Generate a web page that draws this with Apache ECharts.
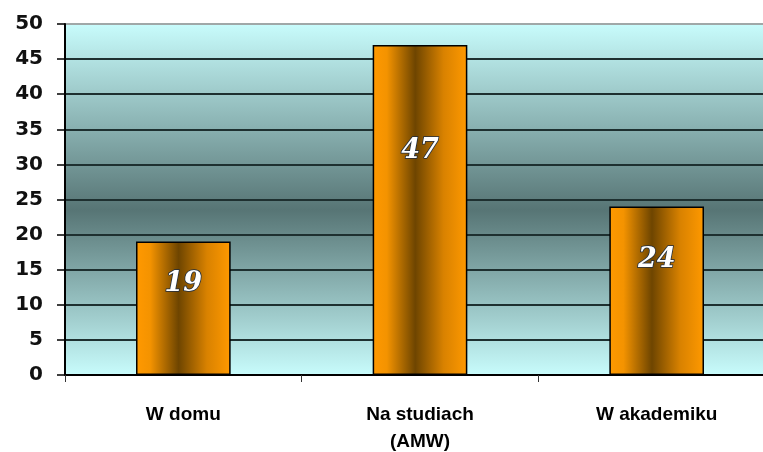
<!DOCTYPE html>
<html>
<head>
<meta charset="utf-8">
<script src="https://cdn.jsdelivr.net/npm/echarts@6/dist/echarts.min.js"></script>
<style>
  html, body { margin: 0; padding: 0; background: #ffffff; }
  #chart { width: 763px; height: 452px; }
</style>
</head>
<body>
<div id="chart"></div>
<script>
// Where students live
const categories = ['W domu', 'Na studiach\n(AMW)', 'W akademiku'];
const values = [19, 47, 24];
const yMin = 0;
const yMax = 50;
const yStep = 5;

const chart = echarts.init(document.getElementById('chart'));

// orange bar with a dark brown stripe down the middle
const barFill = new echarts.graphic.LinearGradient(0, 0, 1, 0, [
  { offset: 0, color: '#ff9900' },
  { offset: 0.15, color: '#f49300' },
  { offset: 0.45, color: '#6e4500' },
  { offset: 0.75, color: '#d98200' },
  { offset: 1, color: '#ff9900' }
]);

// plot background: light cyan, darkening to slate teal in the middle
const plotFill = new echarts.graphic.LinearGradient(0, 0, 0, 1, [
  { offset: 0, color: '#c8fcfc' },
  { offset: 0.53, color: '#577575' },
  { offset: 1, color: '#c8fcfc' }
]);

chart.setOption({
  animation: false,
  backgroundColor: '#ffffff',
  grid: {
    left: 65, right: -12, top: 24, bottom: 77,
    outerBoundsMode: 'none',
    containLabel: false,
    show: true,
    backgroundColor: plotFill,
    borderWidth: 0
  },
  xAxis: {
    type: 'category',
    data: categories,
    axisLine: { show: true, lineStyle: { color: '#000', width: 1.5 } },
    axisTick: { show: true, alignWithLabel: false, length: 7, lineStyle: { color: '#333', width: 1 } },
    axisLabel: {
      color: '#000',
      fontFamily: 'Liberation Sans, Arial, sans-serif',
      fontWeight: 'bold',
      fontSize: 19,
      margin: 26,
      lineHeight: 27
    },
    splitLine: { show: false }
  },
  yAxis: {
    type: 'value',
    min: yMin,
    max: yMax,
    interval: yStep,
    axisLine: { show: true, lineStyle: { color: '#000', width: 2 } },
    axisTick: { show: true, length: 8, lineStyle: { color: '#000', width: 1.5 } },
    axisLabel: {
      color: '#111',
      fontFamily: 'DejaVu Sans, sans-serif',
      fontWeight: 'bold',
      fontSize: 20,
      margin: 22
    },
    splitLine: {
      show: true,
      lineStyle: {
        color: ['#000', '#1e3030', '#1e3030', '#1e3030', '#1e3030', '#1e3030', '#1e3030', '#1e3030', '#1e3030', '#1e3030', '#a0a8a8'],
        width: 2
      }
    }
  },
  series: [{
    type: 'bar',
    data: values,
    barWidth: '40%',
    itemStyle: {
      color: barFill,
      borderColor: '#000',
      borderWidth: 1.5
    },
    label: {
      show: true,
      position: ['50%', '32%'],
      align: 'center',
      verticalAlign: 'middle',
      color: '#ffffff',
      fontFamily: 'DejaVu Serif, serif',
      fontStyle: 'italic',
      fontWeight: 'bold',
      fontSize: 27,
      textBorderColor: '#1a2a40',
      textBorderWidth: 1.5
    }
  }]
});
</script>
</body>
</html>
